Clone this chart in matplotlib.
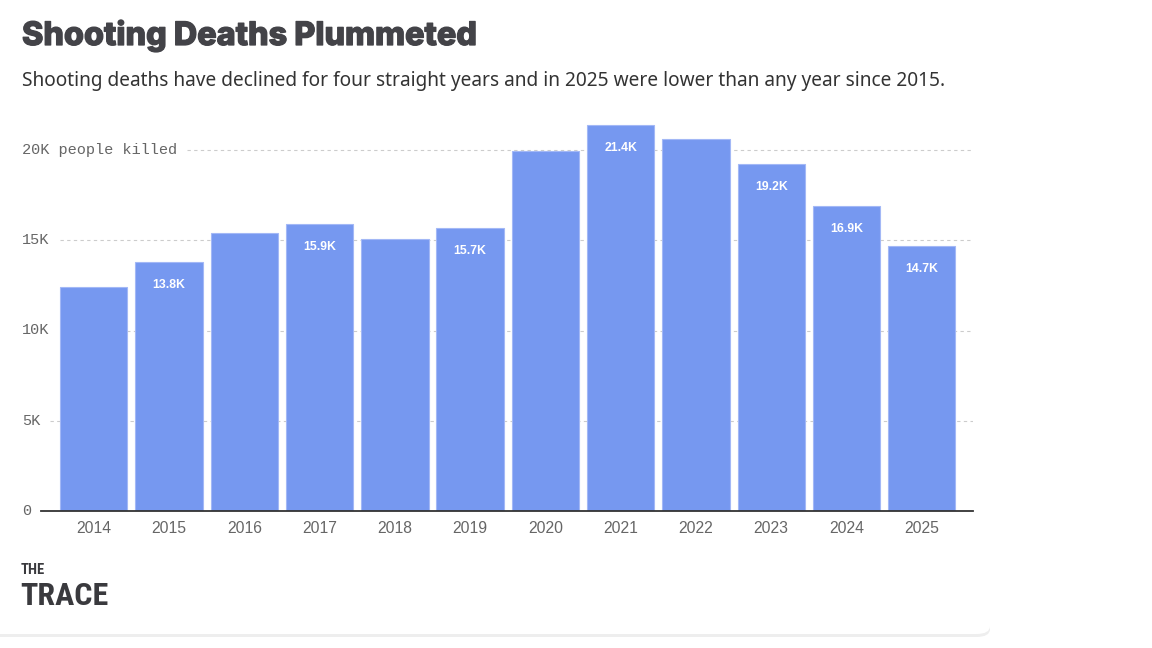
import matplotlib
matplotlib.use("Agg")
import matplotlib.pyplot as plt
from matplotlib import font_manager
from matplotlib.patches import FancyBboxPatch
import matplotlib.transforms as mtransforms
import matplotlib.patheffects as pe

years = ["2014", "2015", "2016", "2017", "2018", "2019", "2020", "2021", "2022", "2023", "2024", "2025"]
deaths = [12400, 13800, 15400, 15900, 15050, 15700, 19950, 21400, 20600, 19200, 16900, 14700]
bar_labels = ["", "13.8K", "", "15.9K", "", "15.7K", "", "21.4K", "", "19.2K", "16.9K", "14.7K"]
y_ticks = [0, 5000, 10000, 15000, 20000]
y_tick_labels = ["0", "5K", "10K", "15K", "20K people killed"]

title = "Shooting Deaths Plummeted"
subtitle = "Shooting deaths have declined for four straight years and in 2025 were lower than any year since 2015."

avail = {f.name for f in font_manager.fontManager.ttflist}
def pick(*names):
    for n in names:
        if n in avail:
            return n
    return "DejaVu Sans"

title_font = pick("Inter", "Roboto", "Liberation Sans")
sub_font = pick("Noto Sans", "Open Sans", "DejaVu Sans")
mono_font = pick("Liberation Mono", "DejaVu Sans Mono")
tick_font = pick("Liberation Sans", "DejaVu Sans")
narrow_font = pick("Liberation Sans Narrow", "Roboto Condensed", "DejaVu Sans Condensed", "DejaVu Sans")

W, H = 1152, 648
fig = plt.figure(figsize=(W / 100, H / 100), dpi=100)
fig.patch.set_facecolor("white")

# card with soft bottom shadow
shadow = FancyBboxPatch((-20 / W, (H - 637) / H), 1010 / W, 700 / H,
                        boxstyle="round,pad=0,rounding_size=0.012", transform=fig.transFigure,
                        facecolor="#eeeeee", edgecolor="none", zorder=-6)
card = FancyBboxPatch((-20 / W, (H - 634) / H), 1010 / W, 700 / H,
                      boxstyle="round,pad=0,rounding_size=0.012", transform=fig.transFigure,
                      facecolor="white", edgecolor="none", zorder=-5)
fig.patches.extend([shadow, card])

ax_left, ax_right = 41, 973
ax_bottom = 511
ymax = 22000
px_per = (511 - 150) / 20000
ax_top = ax_bottom - ymax * px_per
ax = fig.add_axes([ax_left / W, 1 - ax_bottom / H, (ax_right - ax_left) / W, (ax_bottom - ax_top) / H])
ax.set_facecolor("none")
ax.set_zorder(2)

x = list(range(len(years)))
bars = ax.bar(x, deaths, width=0.895, color="#7698f0", edgecolor="#a3b8f6", linewidth=0.8, zorder=2)
ax.set_xlim(-0.70, 11.68)
ax.set_ylim(0, ymax)

for b, lab in zip(bars, bar_labels):
    if lab:
        ax.annotate(lab, (b.get_x() + b.get_width() / 2, b.get_height()), xytext=(0, -23),
                    textcoords="offset pixels", ha="center", va="center", color="white",
                    fontsize=8.8, fontweight="bold", family=tick_font, zorder=3)

for s in ["top", "right", "left"]:
    ax.spines[s].set_visible(False)
ax.spines["bottom"].set_color("#333333")
ax.spines["bottom"].set_linewidth(1.3)
ax.set_yticks([])
ax.set_xticks(x)
ax.set_xticklabels(years, fontsize=11.3, color="#666666", family=tick_font)
ax.tick_params(axis="x", length=0, pad=7)

trans = mtransforms.blended_transform_factory(ax.transAxes, ax.transData)
grid_start_px = [None, 50, 60, 60, 187]
for yv, lab, gs in zip(y_ticks, y_tick_labels, grid_start_px):
    ax.text((22 - ax_left) / (ax_right - ax_left), yv, lab, transform=trans, ha="left", va="center",
            fontsize=11, color="#666666", family=mono_font)
    if gs is not None:
        ax.axhline(yv, xmin=(gs - ax_left) / (ax_right - ax_left), xmax=1, color="#cccccc",
                   linewidth=0.8, linestyle=(0, (3, 3)), zorder=1)

fig.text(22 / W, 1 - 36 / H, title, ha="left", va="center", fontsize=23.3, fontweight="heavy",
         color="#434348", family=title_font,
         path_effects=[pe.withStroke(linewidth=0.9, foreground="#434348")])
fig.text(22 / W, 1 - 81 / H, subtitle, ha="left", va="center", fontsize=13.75, color="#333333",
         family=sub_font)

fig.text(21 / W, 1 - 570 / H, "THE", ha="left", va="center", fontsize=10.5, fontweight="bold",
         color="#3a3a3e", family=narrow_font, fontstretch="condensed")
fig.text(20 / W, 1 - 596 / H, "TRACE", ha="left", va="center", fontsize=23, fontweight="bold",
         color="#3a3a3e", family=narrow_font, fontstretch="condensed")

fig.savefig("out.png", dpi=100, facecolor="white")
